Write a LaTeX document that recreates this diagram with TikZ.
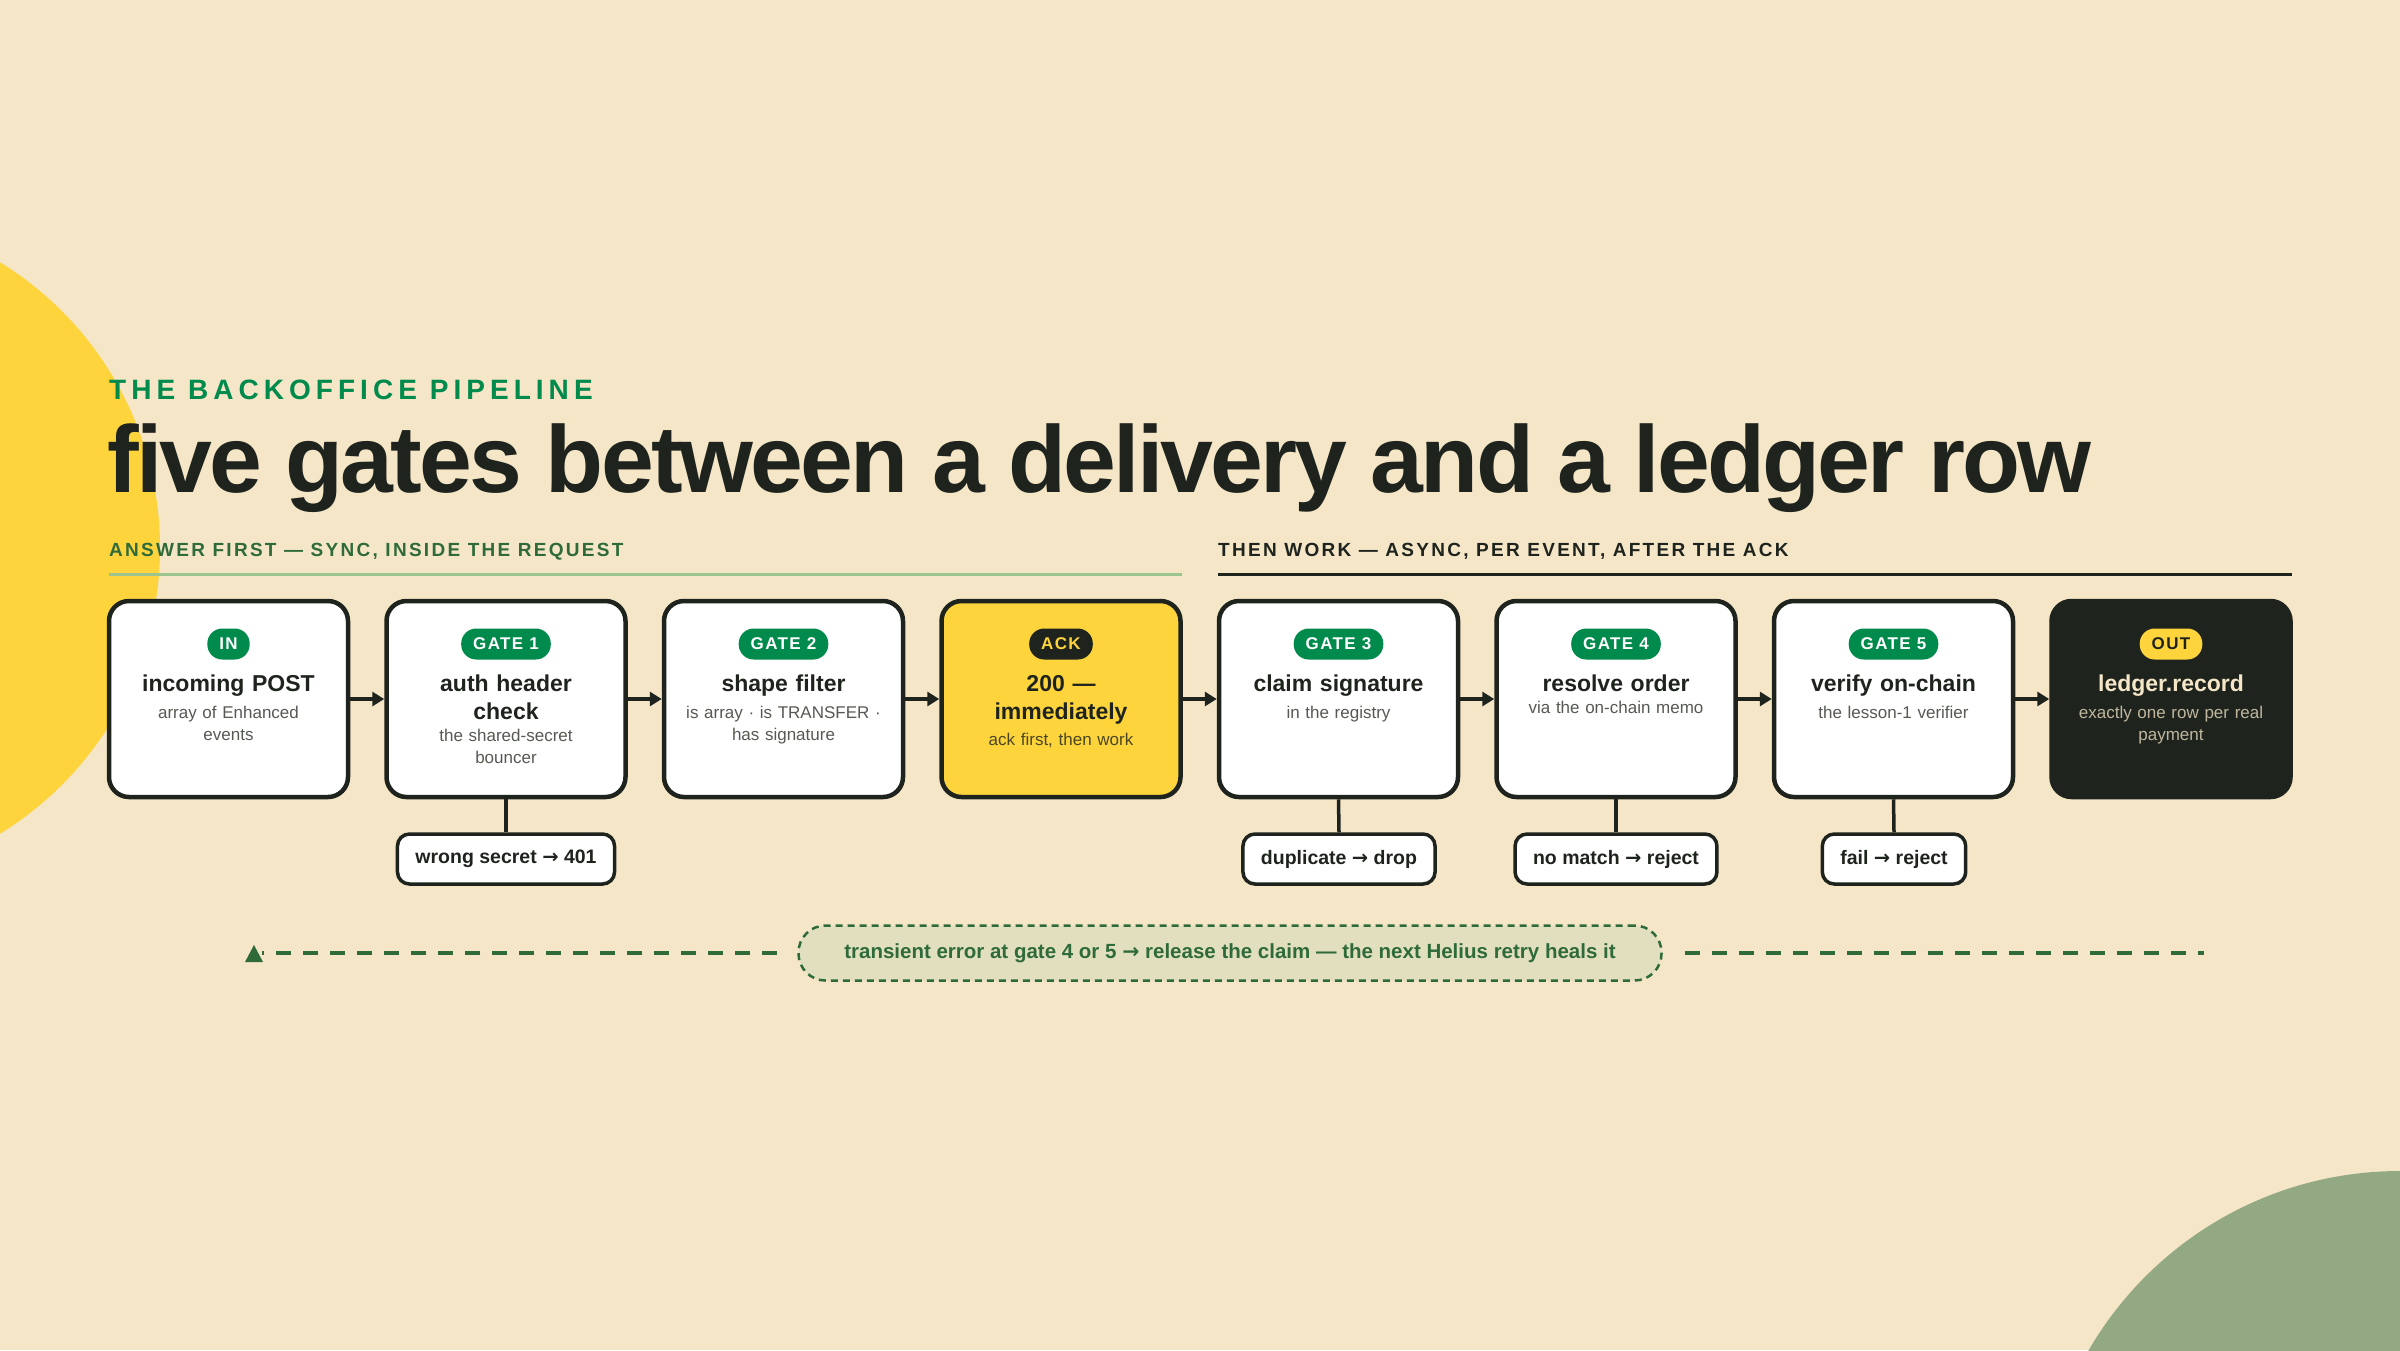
\documentclass[tikz,border=0pt]{standalone}
\usepackage{fontspec}
\setmainfont{Liberation Sans}
\newfontfamily\symf{DejaVu Sans}
\newcommand{\arr}{{\symf →}}
\usetikzlibrary{arrows.meta,positioning}
\definecolor{bg}{HTML}{F5E6C8}
\definecolor{gr}{HTML}{008A4C}
\definecolor{dk}{HTML}{1E241D}
\definecolor{yl}{HTML}{FDD43C}
\definecolor{sg}{HTML}{93A983}
\definecolor{dg}{HTML}{2F6B3A}
\definecolor{lg}{HTML}{9CC48F}
\definecolor{pg}{HTML}{E2DFBF}
\definecolor{tx}{HTML}{555A52}
\begin{document}
\begin{tikzpicture}[x=1pt,y=-1pt,
 box/.style={draw=dk,line width=4.5pt,fill=white,rounded corners=20pt,minimum width=239pt,minimum height=196pt,inner sep=0pt},
 pill/.style={fill=gr,text=white,rounded corners=15pt,minimum height=31pt,inner xsep=12pt,inner ysep=0pt,font=\fontsize{17}{17}\selectfont\bfseries\addfontfeatures{LetterSpace=8}},
 ttl/.style={text width=230pt,align=center,font=\fontsize{23}{28}\selectfont\bfseries,text=dk,inner sep=0pt},
 sub/.style={text width=220pt,align=center,font=\fontsize{17}{22}\selectfont,text=tx,inner sep=0pt},
 side/.style={draw=dk,line width=3.5pt,fill=white,rounded corners=12pt,minimum height=50pt,inner xsep=18pt,font=\fontsize{19.5}{20}\selectfont\bfseries,text=dk},
 flow/.style={line width=4.5pt,draw=dk,-{Triangle[length=12pt,width=14pt]}},
 stub/.style={line width=3.5pt,draw=dk},
 sec/.style={anchor=base west,inner sep=0pt,font=\fontsize{19}{19}\selectfont\bfseries\addfontfeatures{LetterSpace=12}}]
\fill[bg] (0,0) rectangle (2400,1350);
\useasboundingbox (0,0) rectangle (2400,1350);
\begin{scope}
\clip (0,0) rectangle (2400,1350);
\fill[yl] (-175,548) circle (335);
\fill[sg] (2400,1531) circle (360);
\end{scope}
\node[sec,text=gr,font=\fontsize{28}{28}\selectfont\bfseries\addfontfeatures{LetterSpace=18}] (hdr) at (109,399) {THE BACKOFFICE PIPELINE};
\node[anchor=base west,inner sep=0pt,text=dk] (title) at (107,492) {\resizebox{1984pt}{!}{\fontsize{84}{84}\selectfont\bfseries\addfontfeatures{LetterSpace=-3}five gates between a delivery and a ledger row}};
\node[sec,text=dg] (s1) at (109,556) {ANSWER FIRST — SYNC, INSIDE THE REQUEST};
\node[sec,text=dk] (s2) at (1218,556) {THEN WORK — ASYNC, PER EVENT, AFTER THE ACK};
\coordinate (l1a) at (109,574); \coordinate (l1b) at (1182,574);
\coordinate (l2a) at (1218,574); \coordinate (l2b) at (2292,574);
\draw[lg,line width=3pt] (l1a) -- (l1b);
\draw[dk,line width=3pt] (l2a) -- (l2b);
% boxes
\foreach \i/\nm/\pl/\t/\s/\st in {
 0/b0/IN/incoming POST/array of Enhanced\\events/w,
 1/b1/GATE 1/auth header\\check/the shared-secret\\bouncer/w,
 2/b2/GATE 2/shape filter/is array · is TRANSFER ·\\has signature/w,
 3/b3/ACK/200 —\\immediately/{ack first, then work}/y,
 4/b4/GATE 3/claim signature/in the registry/w,
 5/b5/GATE 4/resolve order/via the on-chain memo/w,
 6/b6/GATE 5/verify on-chain/the lesson-1 verifier/w,
 7/b7/OUT/ledger.record/exactly one row per real\\payment/d}{
 \pgfmathsetmacro\cx{228.5+277.5*\i}
 \if\st y
  \node[box,fill=yl] (\nm) at (\cx,699) {};
  \node[pill,fill=dk,text=yl] (\nm p) at (\cx,644) {\pl};
  \node[ttl,anchor=north] (\nm t) at (\cx,675) {\t};
  \node[sub,anchor=north,text=dk!80!yl,below=9pt of \nm t] (\nm s) {\s};
 \else\if\st d
  \node[box,fill=dk] (\nm) at (\cx,699) {};
  \node[pill,fill=yl,text=dk] (\nm p) at (\cx,644) {\pl};
  \node[ttl,anchor=north,text=bg] (\nm t) at (\cx,675) {\t};
  \node[sub,anchor=north,text=bg!75!dk,below=9pt of \nm t] (\nm s) {\s};
 \else
  \node[box] (\nm) at (\cx,699) {};
  \node[pill] (\nm p) at (\cx,644) {\pl};
  \node[ttl,anchor=north] (\nm t) at (\cx,675) {\t};
  \node[sub,anchor=north,below=9pt of \nm t] (\nm s) {\s};
 \fi\fi
}
\foreach \a/\b in {b0/b1,b1/b2,b2/b3,b3/b4,b4/b5,b5/b6,b6/b7}
 \draw[flow] (\a.east) -- (\b.west);
\node[side] (f1) at (506,859) {wrong secret \arr{} 401};
\node[side] (f4) at (1339,859) {duplicate \arr{} drop};
\node[side] (f5) at (1616,859) {no match \arr{} reject};
\node[side] (f6) at (1894,859) {fail \arr{} reject};
\foreach \a/\b in {b1/f1,b4/f4,b5/f5,b6/f6}
 \draw[stub] (\a.south) -- (\b.north);
% retry loop
\node[draw=dg,fill=pg,line width=2.5pt,dash pattern=on 7pt off 5pt,rounded corners=27pt,minimum width=863pt,minimum height=55pt,text=dg,font=\fontsize{20.5}{21}\selectfont\bfseries] (loop) at (1230,953) {transient error at gate 4 or 5 \arr{} release the claim — the next Helius retry heals it};
\coordinate (la) at (262,953);
\coordinate (rb) at (2204,953);
\draw[dg,line width=3.5pt,dash pattern=on 15pt off 12pt,shorten <=20pt] (loop.west) -- (la);
\fill[dg] (245,962) -- (254,945) -- (263,962) -- cycle;
\draw[dg,line width=3.5pt,dash pattern=on 15pt off 12pt,shorten <=22pt] (loop.east) -- (rb);
\end{tikzpicture}
\end{document}
